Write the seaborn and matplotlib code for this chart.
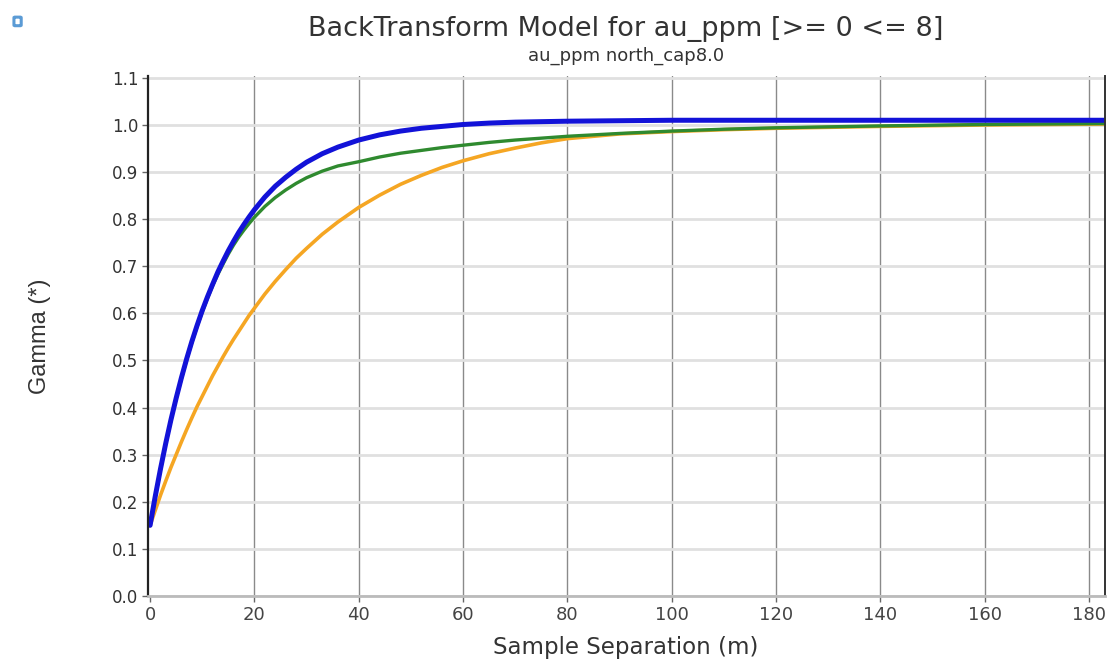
import matplotlib
matplotlib.use("Agg")
import matplotlib.pyplot as plt
import seaborn as sns
import pandas as pd
from matplotlib.patches import FancyBboxPatch

# ---- data ----
lag = [0, 1, 2, 3, 4, 5, 6, 7, 8, 9, 10, 11, 12, 13, 14, 15, 16, 17, 18, 19, 20,
       22, 24, 26, 28, 30, 33, 36, 40, 44, 48, 52, 56, 60, 65, 70, 75, 80, 90,
       100, 110, 120, 140, 160, 183]
gamma_blue = [0.150, 0.212, 0.270, 0.324, 0.374, 0.420, 0.463, 0.503, 0.540, 0.574,
              0.606, 0.635, 0.662, 0.688, 0.711, 0.733, 0.753, 0.772, 0.789, 0.805,
              0.820, 0.847, 0.870, 0.889, 0.906, 0.921, 0.939, 0.953, 0.968, 0.979,
              0.987, 0.993, 0.997, 1.001, 1.004, 1.006, 1.007, 1.008, 1.009,
              1.010, 1.010, 1.010, 1.010, 1.010, 1.010]
gamma_green = [0.150, 0.211, 0.269, 0.323, 0.373, 0.419, 0.461, 0.501, 0.538, 0.572,
               0.603, 0.632, 0.659, 0.683, 0.705, 0.726, 0.745, 0.762, 0.777, 0.791,
               0.804, 0.827, 0.846, 0.862, 0.876, 0.888, 0.902, 0.913, 0.922, 0.932,
               0.940, 0.946, 0.952, 0.957, 0.963, 0.968, 0.972, 0.976, 0.982,
               0.987, 0.991, 0.994, 0.998, 1.001, 1.003]
gamma_orange = [0.150, 0.182, 0.214, 0.244, 0.273, 0.300, 0.327, 0.353, 0.378, 0.402,
                0.424, 0.446, 0.468, 0.488, 0.508, 0.527, 0.545, 0.562, 0.579, 0.596,
                0.611, 0.641, 0.668, 0.693, 0.717, 0.738, 0.768, 0.794, 0.825, 0.851,
                0.874, 0.893, 0.910, 0.924, 0.939, 0.951, 0.962, 0.971, 0.981,
                0.986, 0.990, 0.993, 0.997, 1.000, 1.002]
x_ticks = [0, 20, 40, 60, 80, 100, 120, 140, 160, 180]
y_ticks = [0.0, 0.1, 0.2, 0.3, 0.4, 0.5, 0.6, 0.7, 0.8, 0.9, 1.0, 1.1]

title = "BackTransform Model for au_ppm [>= 0 <= 8]"
subtitle = "au_ppm north_cap8.0"
xlabel = "Sample Separation (m)"
ylabel = "Gamma (*)"

df = pd.concat([
    pd.DataFrame({"lag": lag, "gamma": gamma_orange, "model": "orange"}),
    pd.DataFrame({"lag": lag, "gamma": gamma_green, "model": "green"}),
    pd.DataFrame({"lag": lag, "gamma": gamma_blue, "model": "blue"}),
])

sns.set_theme(style="white")
plt.rcParams["font.family"] = ["DejaVu Sans"]

fig = plt.figure(figsize=(11.16, 6.59), dpi=100)
ax = fig.add_axes([0.1326, 0.0956, 0.8574, 0.7891])

colors = {"orange": "#f5a623", "green": "#2f8a2f", "blue": "#1212d8"}
widths = {"orange": 2.6, "green": 2.4, "blue": 3.6}
for name in ["orange", "green", "blue"]:
    sub = df[df["model"] == name]
    sns.lineplot(data=sub, x="lag", y="gamma", ax=ax, color=colors[name],
                 linewidth=widths[name], estimator=None, sort=True, legend=False,
                 solid_joinstyle="round", solid_capstyle="round")

ax.set_xlim(-0.4, 183)
ax.set_ylim(0.0, 1.104)
ax.set_xticks(x_ticks)
ax.set_yticks(y_ticks)
ax.set_xticklabels([str(v) for v in x_ticks], fontsize=13, color="#444444")
ax.set_yticklabels([f"{v:.1f}" for v in y_ticks], fontsize=12, color="#333333")

# grids: dark thin vertical, light thick horizontal
for xv in x_ticks[1:]:
    ax.axvline(xv, color="#8a8a8a", linewidth=1.0, zorder=0)
for yv in y_ticks:
    ax.axhline(yv, color="#e0e0e0", linewidth=2.0, zorder=0)

ax.spines["top"].set_visible(False)
ax.spines["left"].set_color("#222222")
ax.spines["left"].set_linewidth(1.6)
ax.spines["right"].set_color("#333333")
ax.spines["right"].set_linewidth(1.4)
ax.spines["bottom"].set_color("#bbbbbb")
ax.spines["bottom"].set_linewidth(2.0)

ax.tick_params(axis="both", which="major", direction="out", length=4,
               width=1, color="#666666", left=True, bottom=True, pad=3)

ax.set_xlabel("")
fig.text(0.561, 0.0175, xlabel, ha="center", va="center", fontsize=16.5, color="#333333")
ax.set_ylabel(ylabel, fontsize=17, color="#333333", labelpad=44,
              family=["Liberation Sans Narrow", "Liberation Sans", "DejaVu Sans"])

fig.text(0.561, 0.956, title, ha="center", va="center", fontsize=19.5, color="#333333")
fig.text(0.561, 0.915, subtitle, ha="center", va="center", fontsize=13, color="#333333")

# small blue icon at top-left
fig.patches.append(FancyBboxPatch((0.0135, 0.962), 0.0045, 0.011,
                                  boxstyle="round,pad=0.001", transform=fig.transFigure,
                                  facecolor="none", edgecolor="#5b9bd5", linewidth=2.2))

fig.savefig("out.png", dpi=100)
